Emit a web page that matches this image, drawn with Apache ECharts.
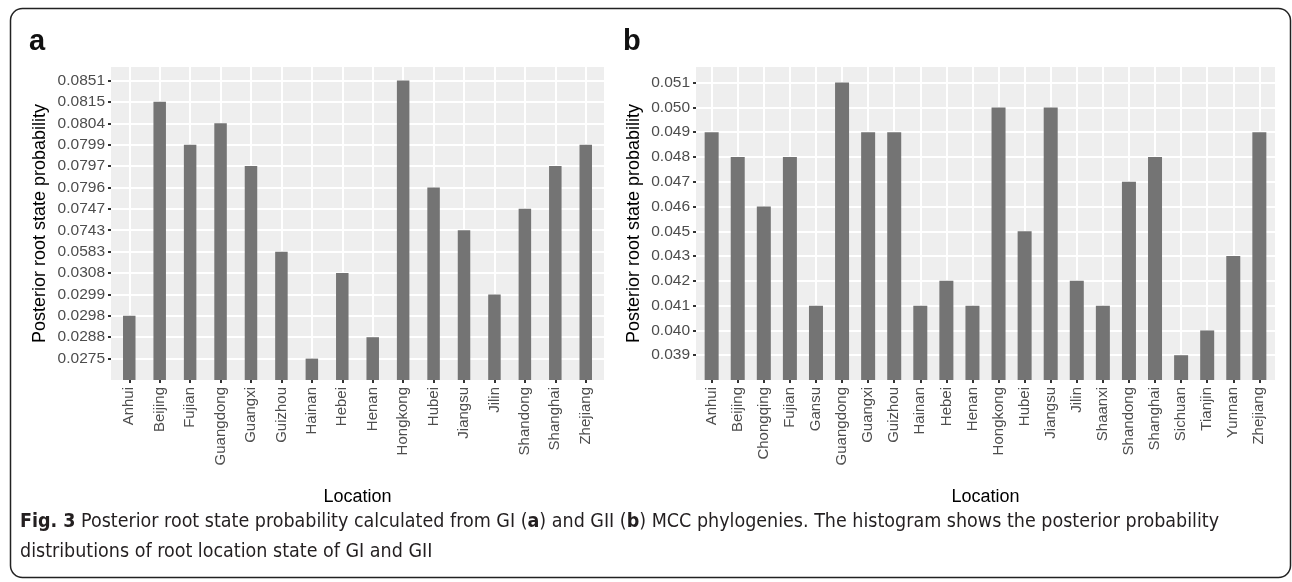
<!DOCTYPE html>
<html>
<head>
<meta charset="utf-8">
<script src="https://cdn.jsdelivr.net/npm/echarts@6/dist/echarts.min.js"></script>
<style>
html, body { margin: 0; padding: 0; background: #fff; }
#main { width: 1292px; height: 582px; }
</style>
</head>
<body>
<div id="main"></div>
<script>
// panel a : GI
const locationsA = ['Anhui', 'Beijing', 'Fujian', 'Guangdong', 'Guangxi', 'Guizhou', 'Hainan', 'Hebei',
  'Henan', 'Hongkong', 'Hubei', 'Jiangsu', 'Jilin', 'Shandong', 'Shanghai', 'Zhejiang'];
const probsA = [0.0298, 0.0815, 0.0799, 0.0804, 0.0797, 0.0583, 0.0275, 0.0308,
  0.0288, 0.0851, 0.0796, 0.0743, 0.0299, 0.0747, 0.0797, 0.0799];
// y tick labels (discrete levels), bottom to top
const levelsA = [0.0275, 0.0288, 0.0298, 0.0299, 0.0308, 0.0583, 0.0743, 0.0747,
  0.0796, 0.0797, 0.0799, 0.0804, 0.0815, 0.0851];

// panel b : GII
const locationsB = ['Anhui', 'Beijing', 'Chongqing', 'Fujian', 'Gansu', 'Guangdong', 'Guangxi', 'Guizhou',
  'Hainan', 'Hebei', 'Henan', 'Hongkong', 'Hubei', 'Jiangsu', 'Jilin', 'Shaanxi', 'Shandong', 'Shanghai',
  'Sichuan', 'Tianjin', 'Yunnan', 'Zhejiang'];
const probsB = [0.049, 0.048, 0.046, 0.048, 0.041, 0.051, 0.049, 0.049,
  0.041, 0.042, 0.041, 0.050, 0.045, 0.050, 0.042, 0.041, 0.047, 0.048,
  0.039, 0.040, 0.043, 0.049];
const levelsB = [0.039, 0.040, 0.041, 0.042, 0.043, 0.045, 0.046, 0.047, 0.048, 0.049, 0.050, 0.051];

const FONT = 'Liberation Sans, Arial, sans-serif';
const CAP_FONT = '"Liberation Sans Narrow", "DejaVu Sans Condensed", sans-serif';
const tickStyle = { color: '#333', width: 2 };

function xAxisFor(idx, cats) {
  const ticks = cats.map((c, i) => i);
  return {
    gridIndex: idx, type: 'value', min: -0.6, max: cats.length - 0.4,
    axisLine: { show: false, onZero: false },
    axisTick: { length: 3, lineStyle: tickStyle, customValues: ticks },
    axisLabel: {
      customValues: ticks, rotate: 90, margin: 7, color: '#4d4d4d', fontSize: 15, fontFamily: FONT,
      formatter: v => cats[Math.round(v)] || ''
    },
    splitLine: { show: true, lineStyle: { color: '#fff', width: 2 } },
    name: 'Location', nameLocation: 'middle', nameGap: 108,
    nameTextStyle: { fontSize: 18, color: '#000', fontFamily: FONT }
  };
}

function yAxisFor(idx, levels, digits, gap) {
  const ticks = levels.map((l, i) => i + 1);
  return {
    gridIndex: idx, type: 'value', min: 0, max: levels.length + 0.63,
    axisLine: { show: false, onZero: false },
    axisTick: { length: 3, lineStyle: tickStyle, customValues: ticks },
    axisLabel: {
      customValues: ticks, margin: 6, color: '#4d4d4d', fontSize: 15.5, fontFamily: FONT,
      formatter: v => { const l = levels[Math.round(v) - 1]; return l === undefined ? '' : l.toFixed(digits); }
    },
    splitLine: { show: true, lineStyle: { color: '#fff', width: 2 } },
    name: 'Posterior root state probability', nameLocation: 'middle', nameGap: gap,
    nameTextStyle: { fontSize: 18, color: '#000', fontFamily: FONT }
  };
}

const chart = echarts.init(document.getElementById('main'));
chart.setOption({
  animation: false,
  textStyle: { fontFamily: FONT },
  grid: [
    { left: 111, right: 688, top: 67, bottom: 202, show: true, backgroundColor: '#eeeeee', borderWidth: 0 },
    { left: 696, right: 17, top: 67, bottom: 202, show: true, backgroundColor: '#eeeeee', borderWidth: 0 }
  ],
  xAxis: [xAxisFor(0, locationsA), xAxisFor(1, locationsB)],
  yAxis: [yAxisFor(0, levelsA, 4, 62), yAxisFor(1, levelsB, 3, 53)],
  series: [
    {
      type: 'bar', xAxisIndex: 0, yAxisIndex: 0, barWidth: 12.5,
      itemStyle: { color: '#747474' },
      data: probsA.map((p, i) => [i, levelsA.indexOf(p) + 1])
    },
    {
      type: 'bar', xAxisIndex: 1, yAxisIndex: 1, barWidth: 14,
      itemStyle: { color: '#747474' },
      data: probsB.map((p, i) => [i, levelsB.indexOf(p) + 1])
    }
  ],
  graphic: [
    {
      type: 'rect', shape: { x: 10.5, y: 8.5, width: 1280, height: 569, r: 12 },
      style: { fill: null, stroke: '#222', lineWidth: 1.5 }, silent: true
    },
    {
      type: 'text', x: 29, y: 42,
      style: { text: 'a', font: 'bold 29px Liberation Sans, Arial, sans-serif', fill: '#111', verticalAlign: 'middle' }
    },
    {
      type: 'text', x: 623, y: 42,
      style: { text: 'b', font: 'bold 29px Liberation Sans, Arial, sans-serif', fill: '#111', verticalAlign: 'middle' }
    },
    {
      type: 'text', x: 20, y: 522,
      style: {
        text: '{b|Fig. 3} Posterior root state probability calculated from GI ({b|a}) and GII ({b|b}) MCC phylogenies. The histogram shows the posterior probability',
        fontSize: 19.5, fontFamily: CAP_FONT, fill: '#231f20', verticalAlign: 'middle',
        rich: { b: { fontWeight: 'bold', fontSize: 19.5, fontFamily: CAP_FONT, fill: '#231f20' } }
      }
    },
    {
      type: 'text', x: 20, y: 552,
      style: {
        text: 'distributions of root location state of GI and GII',
        fontSize: 19.5, fontFamily: CAP_FONT, fill: '#231f20', verticalAlign: 'middle'
      }
    }
  ]
});
</script>
</body>
</html>
